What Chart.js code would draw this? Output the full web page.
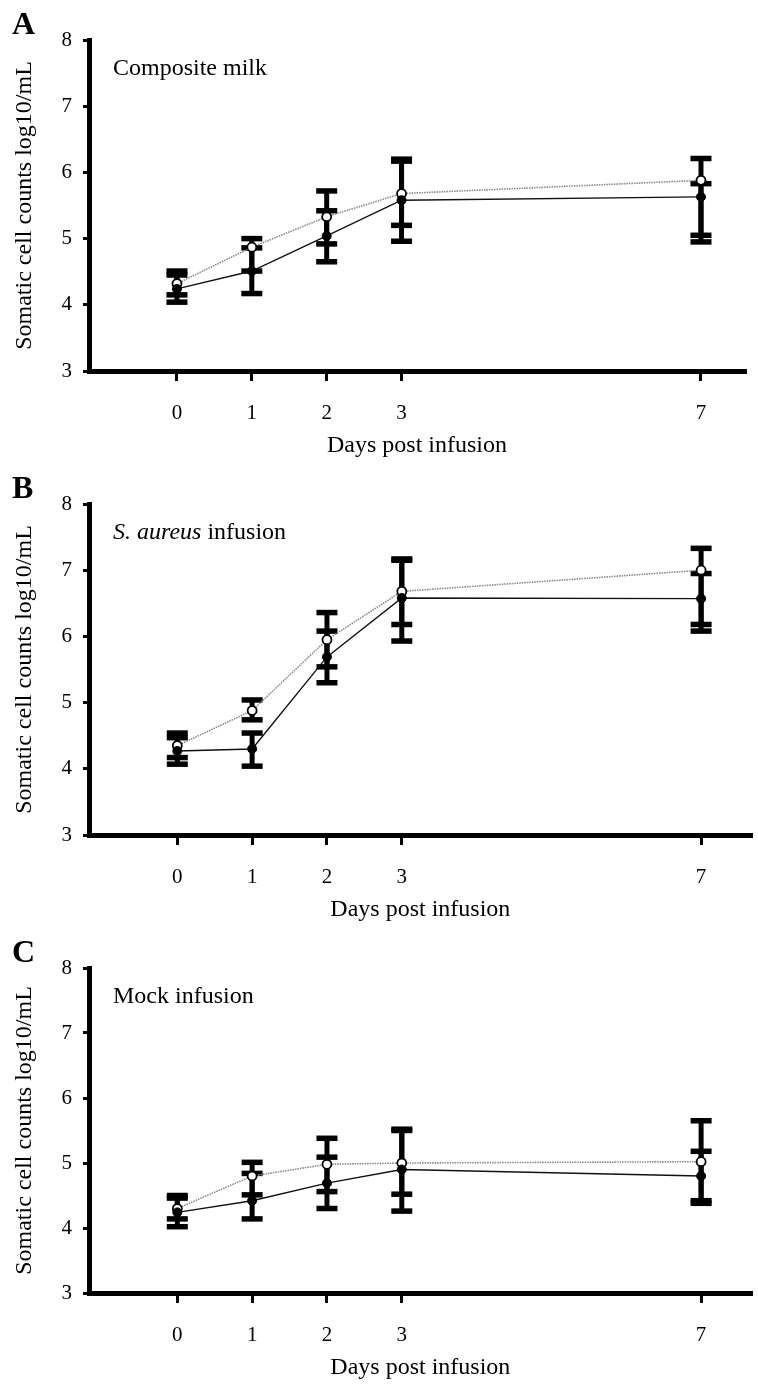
<!DOCTYPE html>
<html>
<head>
<meta charset="utf-8">
<script src="https://cdn.jsdelivr.net/npm/chart.js@4.4.1/dist/chart.umd.min.js"></script>
<style>
  html, body { margin:0; padding:0; background:#fff; overflow:hidden; }
  #wrap { position:relative; width:758px; height:1386px; background:#fff; }
  .panel { position:absolute; left:0; width:758px; height:464px; }
  .panel canvas { position:absolute; left:0; top:0; }
  .plabel { position:absolute; left:12px; top:7px; font-family:'Liberation Serif','Times New Roman',serif; font-weight:bold; font-size:32px; line-height:32px; color:#000; }
  .note { position:absolute; left:113px; top:55px; font-family:'Liberation Serif','Times New Roman',serif; font-size:24px; line-height:24px; color:#000; white-space:nowrap; }
</style>
</head>
<body>
<div id="wrap">
  <div class="panel" style="top:0px"><canvas id="cA" width="758" height="464"></canvas><div class="plabel">A</div><div class="note">Composite milk</div></div>
  <div class="panel" style="top:464px"><canvas id="cB" width="758" height="464"></canvas><div class="plabel">B</div><div class="note"><i>S. aureus</i> infusion</div></div>
  <div class="panel" style="top:928px"><canvas id="cC" width="758" height="458"></canvas><div class="plabel">C</div><div class="note">Mock infusion</div></div>
</div>
<script>
// ---- data ----
const days = [0, 1, 2, 3, 7];
const dayLabels = ['0', '1', '2', '3', '7'];
const yTicks = [3, 4, 5, 6, 7, 8];

// Panel A – Composite milk
const aOpen     = [4.32, 4.87, 5.33, 5.68, 5.88];
const aOpenHi   = [4.51, 5.00, 5.72, 6.17, 6.21];
const aOpenLo   = [4.15, 4.51, 4.92, 5.20, 5.05];
const aFilled   = [4.24, 4.51, 5.04, 5.58, 5.63];
const aFilledHi = [4.45, 4.86, 5.42, 6.20, 5.83];
const aFilledLo = [4.04, 4.17, 4.65, 4.96, 4.95];

// Panel B – S. aureus infusion
const bOpen     = [4.35, 4.88, 5.95, 6.68, 7.00];
const bOpenHi   = [4.54, 5.04, 6.36, 7.17, 7.33];
const bOpenLo   = [4.17, 4.74, 5.54, 6.18, 6.08];
const bFilled   = [4.27, 4.30, 5.69, 6.58, 6.57];
const bFilledHi = [4.47, 4.54, 6.08, 7.15, 6.95];
const bFilledLo = [4.07, 4.04, 5.30, 5.93, 6.18];

// Panel C – Mock infusion
const cOpen     = [4.30, 4.80, 4.98, 5.00, 5.02];
const cOpenHi   = [4.50, 5.01, 5.38, 5.50, 5.65];
const cOpenLo   = [4.14, 4.51, 4.56, 4.52, 4.38];
const cFilled   = [4.24, 4.42, 4.69, 4.90, 4.80];
const cFilledHi = [4.46, 4.84, 5.09, 5.52, 5.18];
const cFilledLo = [4.02, 4.14, 4.30, 4.26, 4.42];

const FONT = "'Liberation Serif','Times New Roman',serif";

const errorBars = {
  id: 'errorBars',
  beforeDatasetsDraw(chart) {
    const { ctx, scales: { x, y } } = chart;
    ctx.save();
    ctx.fillStyle = '#000';
    chart.data.datasets.forEach(ds => {
      ds.errHi.forEach((hi, i) => {
        const px = x.getPixelForValue(days[i]);
        const yh = y.getPixelForValue(hi);
        const yl = y.getPixelForValue(ds.errLo[i]);
        ctx.fillRect(px - 2.5, yh, 5, yl - yh);
        ctx.fillRect(px - 10.5, yh - 2.75, 21, 5.5);
        ctx.fillRect(px - 10.5, yl - 2.75, 21, 5.5);
      });
    });
    ctx.restore();
  }
};

function makePanel(id, open, openHi, openLo, filled, filledHi, filledLo, xMin, xMax, rightPad) {
  const toPts = arr => arr.map((v, i) => ({ x: days[i], y: v }));
  new Chart(document.getElementById(id), {
    type: 'line',
    data: {
      datasets: [
        {
          label: 'filled',
          data: toPts(filled),
          errHi: filledHi, errLo: filledLo,
          borderColor: '#111', borderWidth: 1.4,
          pointRadius: 4.5, pointBackgroundColor: '#000', pointBorderColor: '#000', pointBorderWidth: 1,
          tension: 0, fill: false
        },
        {
          label: 'open',
          data: toPts(open),
          errHi: openHi, errLo: openLo,
          borderColor: '#8a8a8a', borderWidth: 1.6, borderDash: [1.5, 1],
          pointRadius: 4.5, pointBackgroundColor: '#fff', pointBorderColor: '#000', pointBorderWidth: 1.8,
          tension: 0, fill: false
        }
      ]
    },
    options: {
      responsive: false,
      animation: false,
      devicePixelRatio: 1,
      layout: { padding: { top: 40, right: rightPad, left: 0, bottom: 0 } },
      plugins: { legend: { display: false }, tooltip: { enabled: false } },
      scales: {
        x: {
          type: 'linear', min: xMin, max: xMax,
          afterBuildTicks: s => { s.ticks = days.map(d => ({ value: d })); },
          ticks: {
            callback: v => dayLabels[days.indexOf(v)],
            font: { family: FONT, size: 21 }, color: '#000', padding: 20,
            maxRotation: 0, autoSkip: false
          },
          grid: { drawOnChartArea: false, drawTicks: true, tickLength: 10, tickWidth: 3, tickColor: '#000', lineWidth: 3, color: '#000' },
          border: { display: true, width: 5, color: '#000' },
          title: { display: true, text: 'Days post infusion', font: { family: FONT, size: 24 }, color: '#000', padding: { top: 0, bottom: 4 } },
          afterFit: s => { s.height = 93; }
        },
        y: {
          type: 'linear', min: 3, max: 8,
          afterBuildTicks: s => { s.ticks = yTicks.map(v => ({ value: v })); },
          ticks: { font: { family: FONT, size: 21 }, color: '#000', padding: 11 },
          grid: { drawOnChartArea: false, drawTicks: true, tickLength: 6, tickWidth: 3, tickColor: '#000', lineWidth: 3, color: '#000' },
          border: { display: true, width: 5, color: '#000' },
          title: { display: true, text: 'Somatic cell counts log10/mL', font: { family: FONT, size: 24 }, color: '#000', padding: { top: 10, bottom: 0 } },
          afterFit: s => { s.width = 89; }
        }
      }
    },
    plugins: [errorBars]
  });
}

makePanel('cA', aOpen, aOpenHi, aOpenLo, aFilled, aFilledHi, aFilledLo, -1.175, 7.588, 13);
makePanel('cB', bOpen, bOpenHi, bOpenLo, bFilled, bFilledHi, bFilledLo, -1.18, 7.676, 1);
makePanel('cC', cOpen, cOpenHi, cOpenLo, cFilled, cFilledHi, cFilledLo, -1.18, 7.676, 1);
</script>
</body>
</html>
